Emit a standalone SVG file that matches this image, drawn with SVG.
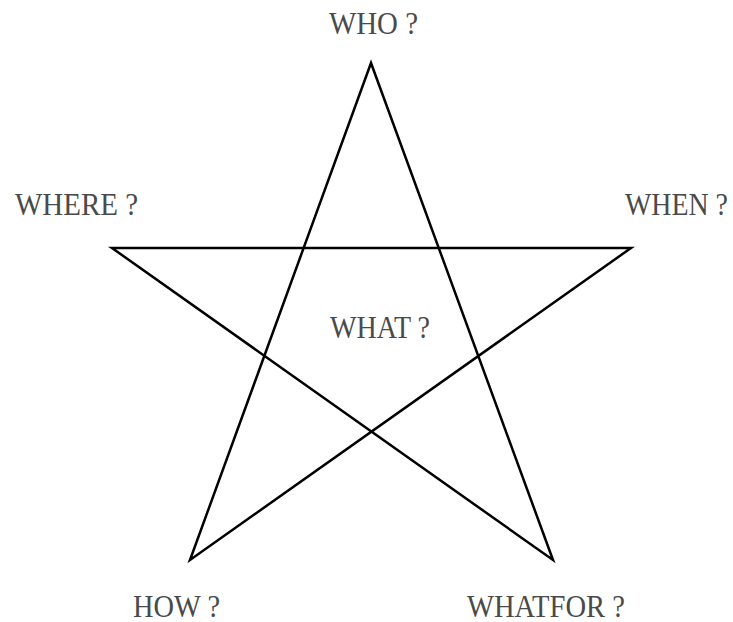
<svg xmlns="http://www.w3.org/2000/svg" width="733" height="622" viewBox="0 0 733 622">
<style>
.lbl{font-family:"Liberation Serif","DejaVu Serif",serif;font-size:31px;fill:#4a4a4a;}
.star{fill:none;stroke:#000;stroke-width:2.5;stroke-linejoin:miter;stroke-miterlimit:10;}
</style>
<rect width="733" height="622" fill="#fff"/>
<g id="connectors">
<path class="star" d="M371,63 L190,560 L631,248 L112,248 L553,560 Z"/>
</g>
<g id="who"><text class="lbl" x="329" y="34" textLength="89" lengthAdjust="spacingAndGlyphs">WHO ?</text></g>
<g id="where"><text class="lbl" x="15" y="215" textLength="123" lengthAdjust="spacingAndGlyphs">WHERE ?</text></g>
<g id="when"><text class="lbl" x="625" y="215" textLength="103" lengthAdjust="spacingAndGlyphs">WHEN ?</text></g>
<g id="what"><text class="lbl" x="330" y="338" textLength="100" lengthAdjust="spacingAndGlyphs">WHAT ?</text></g>
<g id="how"><text class="lbl" x="133" y="617" textLength="87" lengthAdjust="spacingAndGlyphs">HOW ?</text></g>
<g id="whatfor"><text class="lbl" x="467" y="617" textLength="158" lengthAdjust="spacingAndGlyphs">WHATFOR ?</text></g>
</svg>
